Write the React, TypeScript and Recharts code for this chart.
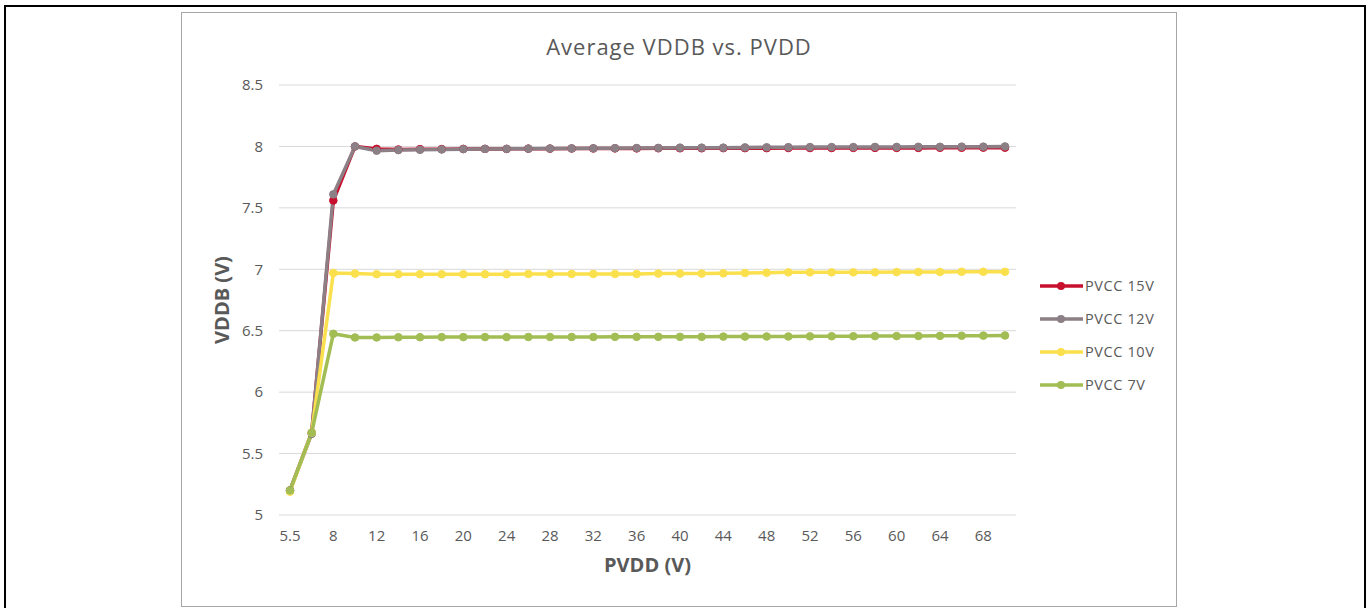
import { LineChart, Line, XAxis, YAxis, CartesianGrid, Label } from 'recharts'

const pvdd = [
  '5.5', '6.5', '8', '10', '12', '14', '16', '18', '20', '22', '24', '26', '28', '30', '32', '34', '36',
  '38', '40', '42', '44', '46', '48', '50', '52', '54', '56', '58', '60', '62', '64', '66', '68', '70',
]

const pvcc15 = [
  5.2, 5.67, 7.56, 8.0, 7.98, 7.975, 7.978, 7.978, 7.98, 7.98, 7.98, 7.982, 7.982, 7.983, 7.983, 7.984, 7.984,
  7.985, 7.985, 7.985, 7.986, 7.986, 7.986, 7.987, 7.987, 7.987, 7.988, 7.988, 7.988, 7.988, 7.989, 7.989, 7.99, 7.99,
]
const pvcc12 = [
  5.2, 5.66, 7.61, 8.0, 7.965, 7.97, 7.972, 7.975, 7.978, 7.98, 7.98, 7.982, 7.983, 7.984, 7.985, 7.986, 7.987,
  7.988, 7.99, 7.99, 7.99, 7.992, 7.993, 7.994, 7.995, 7.995, 7.995, 7.996, 7.996, 7.997, 7.997, 7.998, 7.998, 8.0,
]
const pvcc10 = [
  5.19, 5.67, 6.97, 6.965, 6.96, 6.96, 6.96, 6.96, 6.96, 6.96, 6.96, 6.962, 6.962, 6.962, 6.962, 6.962, 6.962,
  6.965, 6.965, 6.965, 6.967, 6.97, 6.972, 6.975, 6.975, 6.975, 6.975, 6.975, 6.977, 6.978, 6.978, 6.98, 6.98, 6.98,
]
const pvcc7 = [
  5.2, 5.67, 6.475, 6.445, 6.445, 6.447, 6.447, 6.448, 6.448, 6.448, 6.448, 6.449, 6.449, 6.449, 6.449, 6.45, 6.45,
  6.45, 6.45, 6.45, 6.452, 6.452, 6.453, 6.453, 6.454, 6.455, 6.455, 6.456, 6.456, 6.457, 6.458, 6.459, 6.46, 6.461,
]

const yTicks = [5, 5.5, 6, 6.5, 7, 7.5, 8, 8.5]

const series = [
  { key: 'PVCC 15V', values: pvcc15, color: '#c8102e' },
  { key: 'PVCC 12V', values: pvcc12, color: '#8c7f85' },
  { key: 'PVCC 10V', values: pvcc10, color: '#fbe04e' },
  { key: 'PVCC 7V', values: pvcc7, color: '#a3bd55' },
]

const FONT = '"Open Sans", sans-serif'
const GREY = '#595959'

const data = pvdd.map((x, i) => {
  const row: Record<string, string | number> = { x }
  series.forEach((s) => {
    row[s.key] = s.values[i]
  })
  return row
})

function LegendBox() {
  return (
    <div
      style={{
        position: 'absolute',
        left: 858,
        top: 256,
        fontFamily: FONT,
        fontSize: 14.5,
        letterSpacing: 0.6,
        color: GREY,
      }}
    >
      {series.map((s) => (
        <div key={s.key} style={{ display: 'flex', alignItems: 'center', height: 33, whiteSpace: 'nowrap' }}>
          <svg width={44} height={10}>
            <line x1={0} y1={5} x2={43} y2={5} stroke={s.color} strokeWidth={3.5} />
            <circle cx={21} cy={5} r={4} fill={s.color} />
          </svg>
          <span style={{ marginLeft: 1 }}>{s.key}</span>
        </div>
      ))}
    </div>
  )
}

export default function App() {
  return (
    <div style={{ position: 'absolute', left: 0, top: 0, width: 1368, height: 608, background: '#fff', overflow: 'hidden' }}>
      <div style={{ position: 'absolute', left: 4, top: 5, width: 1358, height: 640, border: '2px solid #000' }} />
      <div
        style={{
          position: 'absolute',
          left: 181,
          top: 12,
          width: 994,
          height: 593,
          border: '1px solid #a6a6a6',
          background: '#fff',
        }}
      >
        <div
          style={{
            position: 'absolute',
            top: 18,
            width: '100%',
            textAlign: 'center',
            fontFamily: FONT,
            fontSize: 22,
            letterSpacing: 1,
            fontWeight: 400,
            color: GREY,
          }}
        >
          Average VDDB vs. PVDD
        </div>
        <LineChart
          width={994}
          height={593}
          data={data}
          margin={{ top: 72, right: 160, left: 0, bottom: 0 }}
          style={{ fontFamily: FONT }}
        >
          <CartesianGrid vertical={false} stroke="#d9d9d9" />
          <XAxis
            dataKey="x"
            height={91}
            interval={1}
            padding={{ left: 11, right: 11 }}
            axisLine={false}
            tickLine={false}
            tickSize={0}
            tickMargin={15}
            tick={{ fill: GREY, fontSize: 15 }}
          >
            <Label value="PVDD (V)" position="insideTop" offset={43} fill={GREY} fontSize={20} fontWeight={700} />
          </XAxis>
          <YAxis
            width={97}
            domain={[5, 8.5]}
            ticks={yTicks}
            axisLine={false}
            tickLine={false}
            tickSize={0}
            tickMargin={16}
            tick={{ fill: GREY, fontSize: 15 }}
          >
            <Label
              value="VDDB (V)"
              angle={-90}
              position="insideLeft"
              offset={40}
              style={{ textAnchor: 'middle' }}
              fill={GREY}
              fontSize={20}
              fontWeight={700}
            />
          </YAxis>
          {series.map((s) => (
            <Line
              key={s.key}
              dataKey={s.key}
              stroke={s.color}
              strokeWidth={3.5}
              dot={{ r: 3.8, fill: s.color, stroke: s.color, strokeWidth: 1 }}
              activeDot={false}
              isAnimationActive={false}
            />
          ))}
        </LineChart>
        <LegendBox />
      </div>
    </div>
  )
}
